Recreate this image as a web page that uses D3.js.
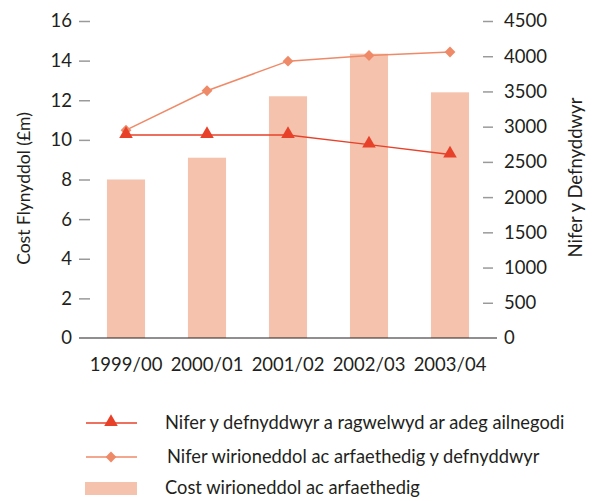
<!DOCTYPE html>
<html>
<head>
<meta charset="utf-8">
<script src="https://cdn.jsdelivr.net/npm/d3@7"></script>
<style>
  body { margin: 0; background: #fff; }
  svg text { font-family: Lato, sans-serif; fill: #231f20; }
</style>
</head>
<body>
<svg id="chart" width="592" height="501"></svg>
<script>
// Data
const years = ['1999/00', '2000/01', '2001/02', '2002/03', '2003/04'];
const costValues = [8.0, 9.1, 12.2, 14.35, 12.4];          // £m, left axis
const forecastUsers = [2880, 2880, 2880, 2745, 2605];      // triangles, right axis
const actualUsers = [2950, 3510, 3930, 4010, 4060];        // diamonds, right axis
const leftTicks = [0, 2, 4, 6, 8, 10, 12, 14, 16];
const rightTicks = [0, 500, 1000, 1500, 2000, 2500, 3000, 3500, 4000, 4500];
const legendLabels = [
  'Nifer y defnyddwyr a ragwelwyd ar adeg ailnegodi',
  'Nifer wirioneddol ac arfaethedig y defnyddwyr',
  'Cost wirioneddol ac arfaethedig'
];

const colors = { bar: '#f4c2ad', forecast: '#e8412a', actual: '#ef8a68', tick: '#9a9a9a', axis: '#231f20' };
const font = 'Lato, sans-serif';

const svg = d3.select('svg#chart');
const plot = { left: 79, right: 497, top: 21, bottom: 338 };

const x = d3.scaleBand().domain(years).range([85.5, 490.5]).paddingInner(0.53).paddingOuter(0.265);
const yL = d3.scaleLinear().domain([0, 16]).range([plot.bottom, plot.top]);
const yR = d3.scaleLinear().domain([0, 4500]).range([plot.bottom, plot.top]);

// Bars
svg.append('g').selectAll('rect')
  .data(years)
  .join('rect')
  .attr('x', d => x(d))
  .attr('width', x.bandwidth())
  .attr('y', (d, i) => yL(costValues[i]))
  .attr('height', (d, i) => yL(0) - yL(costValues[i]))
  .attr('fill', colors.bar);

// Left axis
const leftAxis = svg.append('g').attr('transform', `translate(${plot.left},0)`)
  .call(d3.axisLeft(yL).tickValues(leftTicks).tickSize(0).tickPadding(7));
leftAxis.select('.domain').remove();
leftAxis.selectAll('.tick line').remove();
leftAxis.selectAll('.tick').filter(d => d > 0).append('line')
  .attr('x1', 0).attr('x2', 11).attr('stroke', colors.tick).attr('stroke-width', 1.5);
leftAxis.selectAll('text').attr('font-size', 18.5).attr('fill', colors.axis).attr('font-family', font);

// Right axis
const rightAxis = svg.append('g').attr('transform', `translate(${plot.right},0)`)
  .call(d3.axisRight(yR).tickValues(rightTicks).tickFormat(d3.format('d')).tickSize(0).tickPadding(7));
rightAxis.select('.domain').remove();
rightAxis.selectAll('.tick line').remove();
rightAxis.selectAll('.tick').filter(d => d > 0).append('line')
  .attr('x1', -14).attr('x2', -4).attr('stroke', colors.tick).attr('stroke-width', 1.5);
rightAxis.selectAll('text').attr('font-size', 18.5).attr('fill', colors.axis).attr('font-family', font);

// Baseline
svg.append('line')
  .attr('x1', plot.left).attr('x2', plot.right)
  .attr('y1', yL(0)).attr('y2', yL(0))
  .attr('stroke', colors.axis).attr('stroke-width', 1.2);

// X labels
const xAxis = svg.append('g').attr('transform', `translate(0,${plot.bottom})`)
  .call(d3.axisBottom(x).tickSize(0).tickPadding(20));
xAxis.select('.domain').remove();
xAxis.selectAll('text').attr('font-size', 18.5).attr('fill', colors.axis).attr('font-family', font);

const cx = d => x(d) + x.bandwidth() / 2;

// Actual users line (diamonds)
svg.append('path')
  .datum(actualUsers)
  .attr('fill', 'none').attr('stroke', colors.actual).attr('stroke-width', 1.5)
  .attr('d', d3.line().x((d, i) => cx(years[i])).y(d => yR(d)));
svg.append('g').selectAll('path')
  .data(actualUsers)
  .join('path')
  .attr('transform', (d, i) => `translate(${cx(years[i])},${yR(d)})`)
  .attr('d', d3.symbol(d3.symbolDiamond2, 75))
  .attr('fill', colors.actual);

// Forecast users line (triangles)
svg.append('path')
  .datum(forecastUsers)
  .attr('fill', 'none').attr('stroke', colors.forecast).attr('stroke-width', 1.5)
  .attr('d', d3.line().x((d, i) => cx(years[i])).y(d => yR(d)));
svg.append('g').selectAll('path')
  .data(forecastUsers)
  .join('path')
  .attr('transform', (d, i) => `translate(${cx(years[i])},${yR(d) - 1})`)
  .attr('d', d3.symbol(d3.symbolTriangle, 80))
  .attr('fill', colors.forecast);

// Axis titles
svg.append('text')
  .attr('transform', 'translate(30,188.5) rotate(-90)')
  .attr('text-anchor', 'middle').attr('font-size', 17.5)
  .text('Cost Flynyddol (£m)');
svg.append('text')
  .attr('transform', 'translate(582,177.5) rotate(-90)')
  .attr('text-anchor', 'middle').attr('font-size', 18.5)
  .text('Nifer y Defnyddwyr');

// Legend
const legend = svg.append('g');
const legendY = [423, 457, 488];
legendLabels.forEach((label, i) => {
  const g = legend.append('g').attr('transform', `translate(0,${legendY[i]})`);
  if (i < 2) {
    const col = i === 0 ? colors.forecast : colors.actual;
    g.append('line').attr('x1', 86).attr('x2', 137).attr('stroke', col).attr('stroke-width', 1.5);
    g.append('path').attr('transform', `translate(111,${i === 0 ? -1 : 0})`)
      .attr('d', d3.symbol(i === 0 ? d3.symbolTriangle : d3.symbolDiamond2, i === 0 ? 80 : 75))
      .attr('fill', col);
  } else {
    g.append('rect').attr('x', 85).attr('y', -6).attr('width', 52).attr('height', 13).attr('fill', colors.bar);
  }
  g.append('text').attr('x', i === 1 ? 167 : 165).attr('dy', '0.35em').attr('font-size', 18.3).text(label);
});
</script>
</body>
</html>
